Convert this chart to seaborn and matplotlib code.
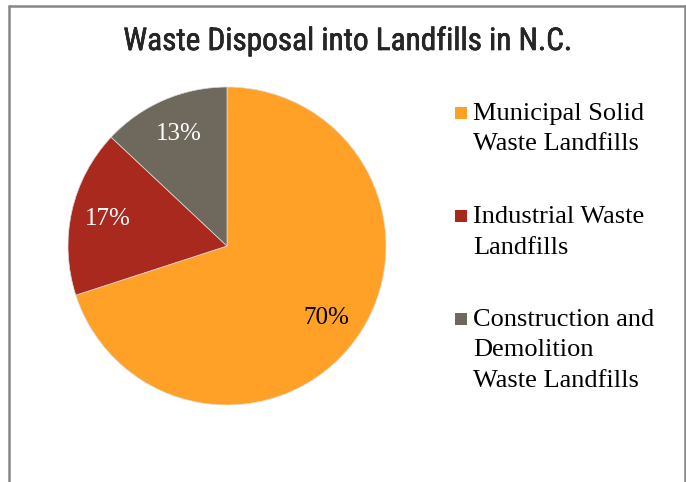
import matplotlib
matplotlib.use("Agg")
import matplotlib.pyplot as plt
import matplotlib.patheffects as pe
from matplotlib.patches import Rectangle
from matplotlib.lines import Line2D
import seaborn as sns

# Share of waste disposed into N.C. landfills
categories = ["Municipal Solid\nWaste Landfills",
              "Industrial Waste\nLandfills",
              "Construction and\nDemolition\nWaste Landfills"]
shares = [70, 17, 13]
colors = sns.color_palette(["#FFA126", "#A9291E", "#6F685C"])
label_colors = ["black", "white", "white"]
title = "Waste Disposal into Landfills in N.C."

sns.set_style("white")
plt.rcParams["font.family"] = ["Liberation Serif", "DejaVu Serif"]

W, H = 686, 482
fig = plt.figure(figsize=(W / 100, H / 100), dpi=100)
fig.patch.set_facecolor("white")

# pie axes: centre (227, 246) px, radius 159 px
cx, cy, r = 227, 246, 159
ax = fig.add_axes([(cx - r) / W, (H - cy - r) / H, 2 * r / W, 2 * r / H])
wedges, _, autotexts = ax.pie(
    shares, colors=colors, startangle=90, counterclock=False,
    autopct="%d%%", pctdistance=0.77, radius=1,
    wedgeprops=dict(linewidth=0.5, edgecolor="#dddddd"),
    textprops=dict(fontsize=18),
)
for t, c in zip(autotexts, label_colors):
    t.set_color(c)
ax.set_xlim(-1, 1)
ax.set_ylim(-1, 1)
ax.set_aspect("equal")
ax.axis("off")

# title (slightly thickened strokes)
fig.text(348 / W, 1 - 50 / H, title, ha="center", va="baseline",
         fontsize=22.5, fontweight="normal",
         family=["Liberation Sans Narrow", "Roboto Condensed", "DejaVu Sans"],
         path_effects=[pe.withStroke(linewidth=0.4, foreground="black")])

# legend: square marker beside the first line of each label
baselines = [122, 225, 328]
for lab, col, yb in zip(categories, colors, baselines):
    fig.patches.append(Rectangle((455 / W, 1 - 119 / H - (yb - 122) / H),
                                 12 / W, 12 / H, transform=fig.transFigure,
                                 facecolor=col, edgecolor="none"))
    fig.text(473 / W, 1 - (yb - 19) / H, lab, ha="left", va="top",
             fontsize=19, linespacing=1.5, color="black")

# chart-area border
for xs, ys in [([9, 685], [6, 6]), ([9, 9], [6, 490]), ([685, 685], [6, 490])]:
    fig.add_artist(Line2D([x / W for x in xs], [1 - y / H for y in ys],
                          transform=fig.transFigure, color="#878787",
                          linewidth=1.8))

fig.savefig("out.png", dpi=100, facecolor="white")
